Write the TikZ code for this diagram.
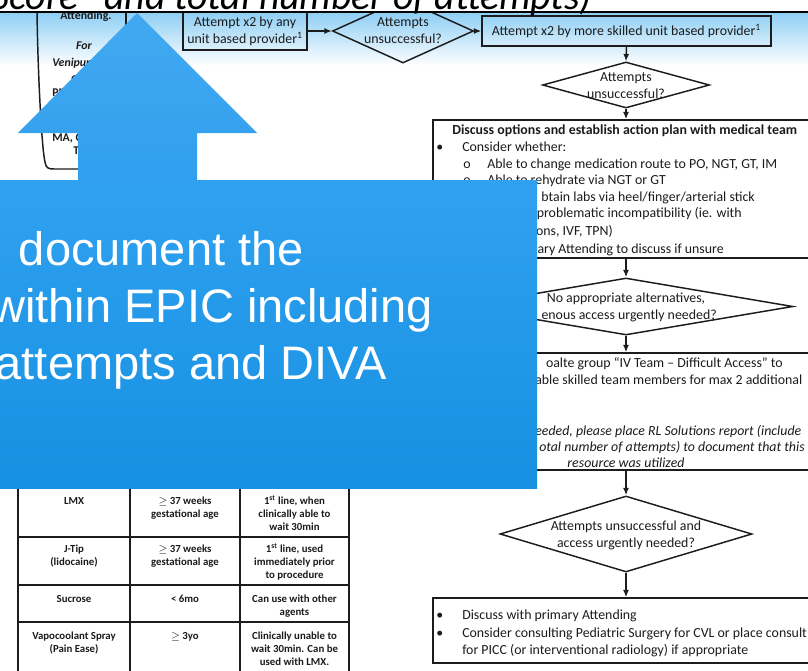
\documentclass[tikz,border=0pt]{standalone}
\usepackage{fontspec}
\setmainfont{Carlito}
\newfontfamily\arialf{Liberation Sans}
\usetikzlibrary{shapes.geometric,arrows.meta}
\definecolor{ink}{HTML}{1C1C1C}
\definecolor{topblue}{HTML}{8DCEF4}
\definecolor{slideA}{HTML}{30A1F0}
\definecolor{slideB}{HTML}{1690E1}
\definecolor{arrowA}{HTML}{41A9F0}
\definecolor{arrowB}{HTML}{319FEF}
\newcommand{\pxu}{0.75pt}
\newcommand{\ff}{\fontsize{10.4}{12.6}\selectfont}
\newcommand{\ct}[1]{\begin{tabular}[t]{@{}c@{}}#1\end{tabular}}
\begin{document}
\begin{tikzpicture}[x=0.75pt,y=-0.75pt,
  inkline/.style={draw=ink,line width=1.1pt},
  fbox/.style={inkline,rectangle,inner sep=0pt},
  fdia/.style={inkline,diamond,inner sep=0pt},
  flow/.style={inkline,-{Latex[length=5.5pt,width=4.5pt]}},
  ftext/.style={font=\ff,text=ink,inner sep=0pt,align=center},
  fl/.style={font=\ff,text=ink,inner sep=0pt,anchor=base west},
  fr/.style={font=\ff,text=ink,inner sep=0pt,anchor=base east},
  fc/.style={font=\ff,text=ink,inner sep=0pt,anchor=base},
  cell/.style={font=\bfseries\fontsize{8.1}{9.75}\selectfont,text=ink,inner sep=0pt,anchor=base},
  lb/.style={font=\bfseries\fontsize{8.9}{10.8}\selectfont,text=ink,inner sep=0pt},
  lbi/.style={font=\bfseries\itshape\fontsize{8.9}{10.8}\selectfont,text=ink,inner sep=0pt},
  wt/.style={font=\arialf\fontsize{35.25}{42}\selectfont,text=white,inner sep=0pt,anchor=base east}]
\useasboundingbox (0,0) rectangle (808,671);
\clip (0,0) rectangle (808,671);
\fill[white] (0,0) rectangle (808,671);
\shade[top color=topblue,bottom color=white] (0,12) rectangle (808,66);

% left box (mostly hidden)
\draw[inkline] (37,12) .. controls (38,80) and (42,150) .. (45,162) .. controls (46,168) and (48,169) .. (54,169) -- (135,169);
\draw[inkline] (126,12) -- (126,60);
\node[lb,anchor=base] (lb1) at (86,19) {Attending.};
\node[lbi,anchor=base] (lb2) at (84,49) {For};
\node[lbi,anchor=base west] (lb3) at (52,66) {Venipuncture};
\node[lbi,anchor=base west] (lb4) at (71,81) {or PIV};
\node[lb,anchor=base west] (lb5) at (52,96) {PIV or};
\node[lb,anchor=base west] (lb6) at (52,141) {MA, CRNA};
\node[lb,anchor=base west] (lb7) at (73,154) {Team};

% flowchart
\node[fbox,minimum width={124*\pxu},minimum height={38*\pxu}] (b1) at (245,31) {};
\node[ftext] (b1t) at (245,31) {Attempt x2 by any\\unit based provider\textsuperscript{1}};
\node[fdia,minimum width={141*\pxu},minimum height={64*\pxu}] (d1) at (403,31) {};
\node[ftext] (d1t) at (403,31) {Attempts\\unsuccessful?};
\node[fbox,minimum width={289*\pxu},minimum height={30*\pxu}] (b2) at (626.5,31) {};
\node[ftext] (b2t) at (626.5,31) {Attempt x2 by more skilled unit based provider\textsuperscript{1}};
\node[fdia,minimum width={167*\pxu},minimum height={46*\pxu}] (d2) at (626,85) {};
\node[ftext] (d2t) at (626,86) {Attempts\\unsuccessful?};
\node[fbox,minimum width={386*\pxu},minimum height={138*\pxu}] (b3) at (626,189) {};
\node[fdia,minimum width={334*\pxu},minimum height={57*\pxu}] (d3) at (626,306.5) {};
\node[fbox,minimum width={386*\pxu},minimum height={117*\pxu}] (b4) at (626,411.5) {};
\node[fdia,minimum width={252*\pxu},minimum height={76*\pxu}] (d4) at (626,534) {};
\node[ftext] (d4t) at (626,535) {Attempts unsuccessful and\\access urgently needed?};
\node[fbox,minimum width={386*\pxu},minimum height={65*\pxu}] (b5) at (626,630.5) {};

\draw[flow] (b1.east) -- (d1.west);
\draw[flow] (d1.east) -- (b2.west);
\draw[flow] (b2.south) -- (d2.north);
\draw[flow] (d2.south) -- (b3.north);
\draw[flow] (b3.south) -- (d3.north);
\draw[flow] (d3.south) -- (b4.north);
\draw[flow] (b4.south) -- (d4.north);
\draw[flow] (d4.south) -- (b5.north);

% box 3 text
\node[fl,font=\ff\bfseries] (t31) at (452,134) {Discuss options and establish action plan with medical team};
\node[fl] (t32b) at (436,151) {•};
\node[fl] (t32) at (462,151) {Consider whether:};
\node[fl] (t33b) at (463,168) {o};
\node[fl] (t33) at (487,168) {Able to change medication route to PO, NGT, GT, IM};
\node[fl] (t34b) at (463,184) {o};
\node[fl] (t34) at (487,184) {Able to rehydrate via NGT or GT};
\node[fr] (t35) at (755,201) {btain labs via heel/finger/arterial stick};
\node[fr] (t36) at (742,217) {problematic incompatibility (ie. with};
\node[fr] (t37) at (613,235) {ons, IVF, TPN)};
\node[fr] (t38) at (724,253) {ary Attending to discuss if unsure};

% diamond 3 text
\node[fc] (d3a) at (626,302) {No appropriate alternatives,};
\node[fr] (d3b) at (717,319) {enous access urgently needed?};

% box 4 text
\node[fr] (t41) at (783,367) {oalte group “IV Team -- Difficult Access” to};
\node[fl] (t42) at (535,384) {able skilled team members for max 2 additional};
\node[fl,font=\ff\itshape] (t44) at (535,435) {eeded, please place RL Solutions report (include};
\node[fr,font=\ff\itshape] (t45) at (805,451) {otal number of attempts) to document that this};
\node[fc,font=\ff\itshape] (t46) at (626,467) {resource was utilized};

% box 5 text
\node[fl] (t51b) at (436,619) {•};
\node[fl] (t51) at (462,619) {Discuss with primary Attending};
\node[fl] (t52b) at (436,637) {•};
\node[fl] (t52) at (462,637) {Consider consulting Pediatric Surgery for CVL or place consult};
\node[fl] (t53) at (462,654) {for PICC (or interventional radiology) if appropriate};

% table
\foreach \x in {18,130,240,349} \draw[inkline] (\x,488) -- (\x,680);
\foreach \y in {537,585,622} \draw[inkline] (18,\y) -- (349,\y);
\node[cell] (c11) at (74,504) {\ct{LMX}};
\node[cell] (c12) at (185,504) {\ct{$\geq$ 37 weeks\\gestational age}};
\node[cell] (c13) at (294.5,504) {\ct{1\textsuperscript{st} line, when\\clinically able to\\wait 30min}};
\node[cell] (c21) at (74,552) {\ct{J-Tip\\(lidocaine)}};
\node[cell] (c22) at (185,552) {\ct{$\geq$ 37 weeks\\gestational age}};
\node[cell] (c23) at (294.5,552) {\ct{1\textsuperscript{st} line, used\\immediately prior\\to procedure}};
\node[cell] (c31) at (74,602) {\ct{Sucrose}};
\node[cell] (c32) at (185,602) {\ct{< 6mo}};
\node[cell] (c33) at (294.5,602) {\ct{Can use with other\\agents}};
\node[cell] (c41) at (74,639) {\ct{Vapocoolant Spray\\(Pain Ease)}};
\node[cell] (c42) at (185,639) {\ct{$\geq$ 3yo}};
\node[cell] (c43) at (294.5,639) {\ct{Clinically unable to\\wait 30min. Can be\\used with LMX.}};

% title band
\fill[white] (0,-2) rectangle (808,11);
\node[font=\itshape\fontsize{29.8}{35}\selectfont,text=black,inner sep=0pt,anchor=base east] (title) at (592,10) {(include “DIVA Score” and total number of attempts)};
\draw[black,line width=1.5pt] (0,12) -- (808,12);

% overlay arrow and panel
\shade[top color=arrowA,bottom color=arrowB] (137,13) -- (257,133) -- (197,133) -- (197,181) -- (78,181) -- (78,133) -- (18,133) -- cycle;
\shade[top color=slideA,bottom color=slideB] (-2,180) rectangle (537,488);
\node[wt] (w1) at (304,265) {document the};
\node[wt] (w2) at (433,322) {within EPIC including};
\node[wt] (w3) at (387,379) {attempts and DIVA};
\end{tikzpicture}
\end{document}
